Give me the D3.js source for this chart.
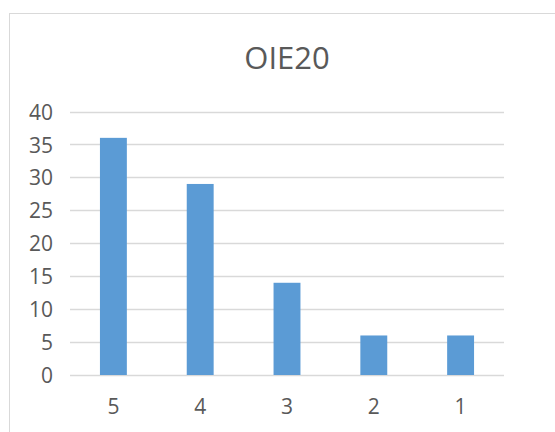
<!DOCTYPE html>
<html>
<head>
<meta charset="utf-8">
<script src="https://cdn.jsdelivr.net/npm/d3@7"></script>
<style>
  html, body { margin: 0; padding: 0; background: #fff; }
  svg { display: block; }
</style>
</head>
<body>
<svg id="chart" width="555" height="432"></svg>
<script>
const title = "OIE20";
const categories = ["5", "4", "3", "2", "1"];
const values = [36, 29, 14, 6, 6];
const yTicks = [0, 5, 10, 15, 20, 25, 30, 35, 40];

const svg = d3.select("#chart");
const plot = { left: 70, right: 504, top: 111.5, bottom: 375 };
const font = "'Open Sans', 'Liberation Sans', sans-serif";
const textColor = "#595959";

// chart border
svg.append("rect")
  .attr("x", 9.5).attr("y", 13.5)
  .attr("width", 600).attr("height", 500)
  .attr("fill", "#fff")
  .attr("stroke", "#d9d9d9").attr("stroke-width", 1);

const x = d3.scaleBand()
  .domain(categories)
  .range([plot.left, plot.right])
  .paddingInner(0.69)
  .paddingOuter(0.345);

const y = d3.scaleLinear()
  .domain([0, 40])
  .range([plot.bottom, plot.top]);

// gridlines
svg.append("g")
  .selectAll("line")
  .data(yTicks)
  .join("line")
  .attr("x1", plot.left).attr("x2", plot.right)
  .attr("y1", d => Math.round(y(d)) + 0.5)
  .attr("y2", d => Math.round(y(d)) + 0.5)
  .attr("stroke", "#d9d9d9").attr("stroke-width", 1.3);

// bars
svg.append("g")
  .selectAll("rect")
  .data(values)
  .join("rect")
  .attr("x", (d, i) => x(categories[i]))
  .attr("width", x.bandwidth())
  .attr("y", d => y(d))
  .attr("height", d => y(0) - y(d))
  .attr("fill", "#5b9bd5");

// y axis labels
const yAxis = d3.axisLeft(y).tickValues(yTicks).tickSize(0).tickPadding(0);
const gy = svg.append("g")
  .attr("transform", `translate(${plot.left - 17},0)`)
  .call(yAxis);
gy.select(".domain").remove();
gy.selectAll("text")
  .attr("font-family", font)
  .attr("font-size", 21)
  .attr("fill", textColor)
  .attr("dy", "0.36em");

// x axis labels
const xAxis = d3.axisBottom(x).tickSize(0).tickPadding(0);
const gx = svg.append("g")
  .attr("transform", `translate(0,${plot.bottom})`)
  .call(xAxis);
gx.select(".domain").remove();
gx.selectAll("text")
  .attr("font-family", font)
  .attr("font-size", 21)
  .attr("fill", textColor)
  .attr("dy", null)
  .attr("y", 39);

// title
svg.append("text")
  .attr("x", (plot.left + plot.right) / 2)
  .attr("y", 69)
  .attr("text-anchor", "middle")
  .attr("font-family", font)
  .attr("font-size", 31)
  .attr("fill", textColor)
  .text(title);
</script>
</body>
</html>
